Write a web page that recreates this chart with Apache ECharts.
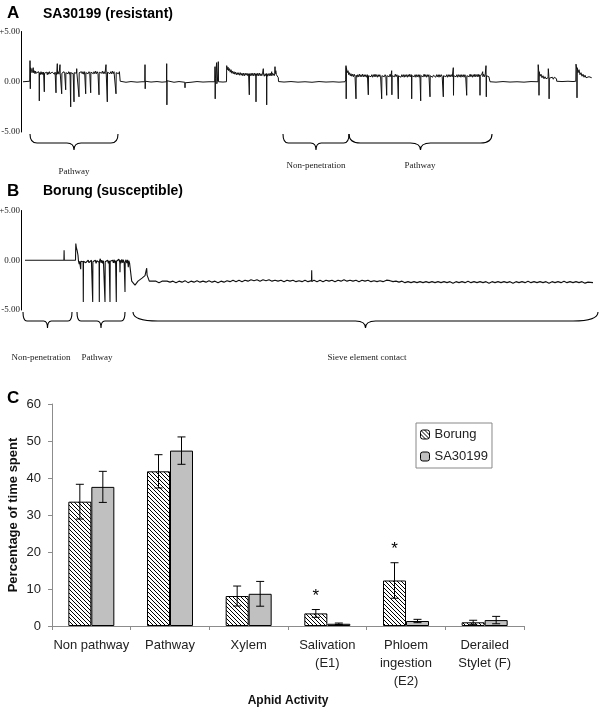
<!DOCTYPE html>
<html><head><meta charset="utf-8">
<script src="https://cdn.jsdelivr.net/npm/echarts@6/dist/echarts.min.js"></script>
<style>html,body{margin:0;padding:0;background:#fff}#c{width:600px;height:707px}</style>
</head><body><div id="c"></div>
<script>
// ---------- Panel A trace (time units, signal) ----------
const traceA = [
[2,0],[8.8,0.05],[9,2.1],[9.3,-0.7],[9.6,1.4],[10.5,1.2],[11,0.9],[11.5,1.1],[12.2,1.4],[12.6,0.9],[13.2,1.1],[14,0.8],[14.6,1.05],[15,0.85],[15.6,1.0],[16,0.75],[16.6,0.95],[17,0.8],[17.6,1.0],[18.1,0.8],[18.3,-1.9],[18.5,0.9],[19.2,0.7],[20,1.0],[20.6,0.75],[21.2,0.95],[22,0.7],[22.6,0.95],[23.1,0.9],[23.3,-1.0],[23.5,0.85],[24.2,1.0],[25,0.75],[25.7,0.95],[26.3,0.7],[27,0.95],[27.7,0.75],[28.4,1.0],[29,0.8],[29.8,0.95],[30.5,0.7],[31.2,0.95],[32,0.8],[32.7,1.0],[33.4,0.75],[34.1,0.95],[34.8,0.85],[35,-1.1],[35.2,0.9],[35.7,0.7],[36.1,0.85],[36.3,1.8],[36.5,0.8],[37.2,1.0],[38,0.75],[38.8,0.85],[39,1.7],[39.2,0.85],[39.8,0.7],[40.5,0.9],[40.7,-1.2],[40.9,0.85],[41.6,1.0],[42.3,0.75],[43,1.0],[43.7,0.8],[44.5,0.85],[44.7,-0.8],[44.9,0.9],[45.6,0.75],[46.3,1.0],[47,0.8],[47.7,1.0],[48.4,0.75],[49,0.95],[49.5,0.9],[49.7,-2.5],[49.9,0.9],[50.6,0.75],[51.5,1.0],[52.2,0.8],[52.8,0.9],[53,-2.0],[53.2,0.9],[53.9,0.75],[54.7,1.0],[55.5,0.85],[55.7,1.3],[55.9,0.85],[56.6,0.7],[57.2,0.95],[57.8,0.9],[58,-1.5],[58.2,0.9],[59,1.0],[59.7,0.75],[60.4,1.0],[61.2,0.8],[62,1.0],[62.8,0.75],[63.6,1.0],[64.5,0.9],[64.7,-1.2],[64.9,0.9],[65.7,0.8],[66.4,1.05],[67.2,0.8],[68,1.0],[68.8,0.8],[69.5,0.9],[69.7,-1.1],[69.9,0.95],[70.7,0.8],[71.5,1.05],[72.3,0.8],[73,1.0],[73.8,0.8],[74.6,1.05],[75.4,0.8],[76.2,1.0],[77,0.8],[77.8,0.9],[78,-1.3],[78.2,0.95],[79,0.8],[79.8,1.05],[80.6,0.85],[81.4,1.05],[82.2,0.8],[83,1.0],[84,0.8],[84.8,0.9],[85,1.7],[85.2,0.9],[86.1,0.95],[86.3,-2.0],[86.5,0.95],[87.3,0.8],[88.1,1.05],[89,0.8],[89.8,1.0],[90.6,0.8],[91.4,1.05],[92.2,0.8],[93,1.0],[94,0.85],[94.8,0.9],[95,-1.2],[95.2,0.9],[96,0.8],[96.8,1.0],[97.6,0.8],[98.4,1.0],[99,0.85],[99.2,0.05],
[105,-0.05],[110,0.02],[116,-0.04],[121,0],[123.8,0],[124,1.7],[124.2,-0.7],[124.4,0.05],[130,-0.03],[136,0.02],[141,-0.04],[145.5,0],[145.7,1.8],[145.9,-2.3],[146.1,0.1],[147,0],[153,-0.05],[158,0.02],[163.8,-0.05],[164,-0.6],[164.2,-0.1],[170,-0.05],[176,0.02],[182,-0.03],[188,0],[193.8,0],[194,1.5],[194.2,-1.7],[194.4,0.3],[195.4,0.2],[195.6,1.9],[195.8,-0.2],[196.4,0.05],[197.1,0],[197.3,2.0],[197.5,0.0],[202,-0.03],[205.5,0],[205.7,1.6],[206.4,1.2],[207,1.45],[207.7,1.1],[208.5,1.3],[209.2,0.95],[210,1.2],[210.8,0.85],[211.5,1.05],[212.3,0.8],[213,1.0],[213.8,0.75],[214.6,0.95],[215.4,0.7],[216.2,0.9],[217,0.7],[217.8,0.9],[218.6,0.65],[219.4,0.9],[220.2,0.65],[221,0.85],[221.8,0.6],[222.6,0.85],[223.4,0.6],[224.2,0.85],[225,0.65],[226,0.85],[226.8,0.6],[227.6,0.8],[228.1,0.75],[228.3,-1.3],[228.5,0.8],[229.3,0.6],[230.1,0.85],[231,0.6],[231.8,0.85],[232.6,0.6],[233.4,0.85],[234.2,0.6],[234.8,0.8],[235,-2.0],[235.2,0.8],[236,0.6],[236.8,0.85],[237.6,0.6],[238.4,0.85],[239.2,0.6],[240,0.8],[240.8,0.6],[241.6,0.85],[242.1,0.7],[242.3,1.3],[242.5,0.75],[243.3,0.55],[244.1,0.8],[244.9,0.6],[245.5,0.8],[245.7,-2.3],[245.9,0.8],[246.7,0.55],[247.5,0.8],[248.3,0.6],[249.1,0.85],[249.9,0.6],[250.5,0.7],[250.7,1.0],[250.9,0.6],[251.7,0.85],[252.5,0.9],[253.2,0.6],[253.8,0.8],[254,1.5],[254.2,0.8],[254.8,1.1],[255.4,0.7],[256,0.6],[256.7,0.8],[257.3,0.4],[257.5,0.02],
[263,-0.03],[270,0.02],[277,-0.04],[284,0],[291,-0.05],[298,0.02],[305,-0.03],[312,0],[318,-0.04],[324,0],[324.8,0.2],[325,1.6],[325.2,-1.7],[325.4,1.4],[326.2,0.9],[327,1.1],[327.8,0.7],[328.5,0.9],[329.3,0.6],[330,0.8],[330.8,0.55],[331.6,0.75],[332.4,0.5],[333.2,0.75],[334,0.55],[334.8,0.7],[335,-1.7],[335.2,0.65],[336,0.45],[336.8,0.7],[337.6,0.5],[338.4,0.75],[339.2,0.5],[340,0.7],[340.8,0.5],[341.6,0.75],[342.4,0.5],[343.2,0.7],[344,0.5],[344.8,0.7],[345.6,0.45],[346.4,0.7],[347.1,0.55],[347.3,-1.3],[347.5,0.6],[348.3,0.45],[349.1,0.75],[350,0.5],[350.8,0.7],[351.6,0.45],[352.4,0.7],[353.2,0.5],[354,0.75],[354.8,0.5],[355.6,0.7],[356.4,0.45],[357.2,0.7],[358,0.5],[358.8,0.7],[359.6,0.5],[360.5,0.55],[360.7,-1.7],[360.9,0.6],[361.7,0.45],[362.5,0.75],[363.3,0.5],[364.1,0.7],[364.9,0.5],[365.5,0.6],[365.7,-1.35],[365.9,0.6],[366.7,0.45],[367.5,0.7],[368.3,0.5],[369.1,0.75],[369.9,0.5],[370.5,0.6],[370.7,1.1],[370.9,-1.3],[371.1,0.6],[371.9,0.45],[372.7,0.7],[373.5,0.5],[374.3,0.75],[375.1,0.5],[375.9,0.7],[376.6,0.5],[377.1,0.6],[377.3,-1.7],[377.5,0.6],[378.3,0.45],[379.1,0.7],[380,0.45],[380.8,0.7],[381.6,0.5],[382.4,0.7],[383.2,0.45],[384,0.7],[384.8,0.5],[385.6,0.7],[386.4,0.45],[387.2,0.7],[388,0.5],[388.8,0.75],[389.6,0.5],[390.5,0.7],[390.7,-1.7],[390.9,0.6],[391.7,0.45],[392.5,0.7],[393.3,0.5],[394.1,0.7],[394.9,0.45],[395.7,0.7],[396.5,0.5],[397.3,0.7],[398.1,0.45],[398.9,0.7],[399.5,0.65],[399.7,-1.9],[399.9,0.6],[400.7,0.45],[401.5,0.7],[402.3,0.5],[403.1,0.75],[403.9,0.5],[404.7,0.7],[405.5,0.45],[406.3,0.7],[407.1,0.5],[407.9,0.7],[408.8,0.55],[409,-1.5],[409.2,0.6],[410,0.45],[410.8,0.7],[411.6,0.45],[412.4,0.65],[413.2,0.5],[414,0.7],[414.8,0.45],[415.6,0.7],[416.4,0.5],[417.2,0.7],[418,0.45],[418.8,0.7],[419.6,0.5],[420.4,0.7],[421.2,0.5],[422.1,0.55],[422.3,-1.5],[422.5,0.6],[423.3,0.45],[424.1,0.7],[424.9,0.5],[425.7,0.7],[426.5,0.45],[427.3,0.7],[428.1,0.5],[428.9,0.7],[429.7,0.5],[430.5,0.7],[431.3,0.5],[432.1,0.55],[432.3,1.4],[432.5,-1.35],[432.7,0.6],[433.5,0.45],[434.3,0.7],[435.1,0.5],[435.9,0.7],[436.7,0.45],[437.5,0.7],[438.3,0.5],[439.1,0.7],[439.9,0.45],[440.7,0.7],[441.5,0.5],[442.3,0.7],[443.1,0.45],[443.9,0.7],[444.7,0.5],[445.5,0.5],[445.7,-1.35],[445.9,0.6],[446.7,0.45],[447.5,0.7],[448.3,0.5],[449.1,0.75],[449.9,0.5],[450.7,0.7],[451.5,0.45],[452.3,0.7],[453.1,0.5],[453.9,0.75],[454.7,0.5],[455.5,0.7],[456.3,0.5],[457.1,0.75],[457.9,0.5],[458.8,0.7],[459,-1.35],[459.2,0.55],[460,0.45],[460.8,0.75],[461.5,0.6],[461.7,1.0],[461.9,0.5],[462.7,0.75],[463.5,0.5],[464.2,0.7],[464.8,0.6],[465,1.6],[465.3,-1.5],[465.5,0.6],[466.3,0.45],[467.1,0.7],[467.9,0.5],[468.8,0.55],[469,0],
[475,-0.04],[482,0.02],[489,-0.03],[496,0],[503,-0.04],[510,0.02],[517,0],[517.2,1.7],[517.8,0.9],[518,-1.35],[518.2,1.0],[519,0.55],[520,0.75],[521,0.4],[522,0.6],[523,0.3],[524,0.5],[525,0.3],[526,0.45],[527.1,0.4],[527.3,1.3],[527.9,0.5],[528.1,-1.7],[528.3,0.35],[529.3,0.5],[530.3,0.25],[531.3,0.45],[532.3,0.25],[533.3,0.45],[534.5,0.3],[535.5,0.3],[535.7,0.05],[541,0.02],[547,0.05],[552,0.02],[554.8,0.05],[555,1.75],[555.8,1.2],[556,-1.6],[556.2,1.4],[557,0.9],[558,1.2],[559,0.7],[560,0.9],[561,0.55],[562,0.75],[563,0.45],[564,0.65],[565,0.4],[566,0.55],[567,0.35],[568,0.5],[569,0.35],[570.7,0.4]
];
// ---------- Panel B trace ----------
const traceB = [
[4,0],[20,0],[42.9,0],[43.1,1.0],[43.3,0],[50.6,0],[50.8,0.2],[51,0],[54.5,0],[54.8,1.67],[55.3,1.3],[55.6,1.5],[56.1,1.0],[56.5,1.2],[57,0.5],[57.5,-0.1],[58.2,-0.4],[58.6,-0.1],[59.5,-0.2],[59.7,-0.9],[59.9,-0.1],[60.6,-0.25],[61.3,0],[62.1,-0.15],[62.3,-4.2],[62.5,-0.1],[63.2,-0.3],[64,0],[64.8,-0.25],[65.6,-0.05],[66.4,-0.3],[67.2,0],[68,-0.25],[68.8,-0.05],[69.6,-0.3],[70.4,0],[71.5,-0.2],[71.7,-4.2],[71.9,-0.15],[72.7,0.05],[73.5,-0.25],[74.3,0],[75.1,-0.3],[75.9,-0.05],[76.7,-0.25],[77.5,0.05],[78.1,-0.2],[78.3,-4.2],[78.5,-0.1],[79.3,0.15],[80,-0.25],[80.8,0],[81.6,-0.3],[82.4,-0.05],[83.2,-0.25],[83.8,-0.1],[84,-4.2],[84.2,-0.15],[85,0.05],[85.8,-0.25],[86.6,0],[87.4,-0.3],[88.2,-0.05],[88.8,-0.2],[89,-4.2],[89.2,-0.1],[90,0.05],[90.8,-0.3],[91.6,0],[92.4,-0.25],[93.2,0.05],[94,-0.3],[94.6,-0.05],[95.1,-0.2],[95.3,-4.2],[95.5,-0.1],[96.3,0.05],[97.1,-0.3],[97.9,0.1],[98.8,-0.2],[99,-1.2],[99.2,0.0],[100,-0.3],[100.8,0.1],[101.6,-0.25],[102.4,0.05],[103.2,-0.3],[103.8,-0.15],[104,-3.2],[104.2,-0.2],[105,0.05],[105.8,-0.3],[106.6,0.05],[107.3,-0.7],[107.8,-0.05],[108.6,-0.3],[109.5,-0.1],[110.5,-0.2],[110.7,-2.1],[112,-2.3],[114,-2.5],[115.7,-2.3],[117,-2.1],[119,-1.95],[121,-1.8],[122.3,-1.7],[124,-1.55],[125.3,-1.45],[125.7,-0.8],[126.1,-1.5],[127,-1.7],[128.3,-2.1],[129.7,-2.2],[131,-2.1],
[132,-2.2],[135,-2.1],[138,-2.25],[141,-2.1],[143,-2.25],[146,-2.1],[149,-2.2],[152,-2.1],[155,-2.25],[158,-2.1],[161,-2.2],[164,-2.05],[167,-2.25],[170,-2.1],[173,-2.2],[176,-2.05],[179,-2.2],[182,-2.1],[185,-2.2],[188,-2.05],[191,-2.2],[194,-2.1],[197,-2.25],[200,-2.1],[203,-2.2],[206,-2.05],[209,-2.15],[212,-2.0],[215,-2.15],[218,-2.0],[221,-2.15],[224,-2.0],[227,-2.1],[230,-1.95],[233,-2.05],[236,-1.95],[239,-2.1],[242,-1.95],[245,-2.05],[248,-1.95],[251,-2.1],[254,-2.0],[257,-2.1],[260,-2.0],[263,-2.15],[266,-2.0],[269,-2.1],[272,-2.0],[275,-2.15],[278,-2.05],[281,-2.15],[284,-2.0],[287,-2.15],[290.5,-2.05],[290.7,-1.0],[290.9,-2.15],[293,-2.0],[296,-2.15],[299,-2.0],[302,-2.15],[305,-2.0],[308,-2.1],[311,-2.0],[314,-2.15],[317,-2.0],[320,-2.1],[323,-1.95],[326,-2.1],[329,-2.0],[332,-2.1],[335,-2.0],[338,-2.15],[341,-2.0],[344,-2.1],[347,-2.0],[350,-2.15],[353,-2.05],[356,-2.15],[359,-2.05],[362,-2.15],[365.5,-2.0],[365.7,-1.8],[366.2,-2.15],[369,-2.05],[372,-2.15],[375,-2.1],[378,-2.2],[381,-2.1],[384,-2.25],[387,-2.15],[390,-2.25],[393,-2.15],[396,-2.25],[399,-2.15],[402,-2.25],[405,-2.15],[408,-2.25],[411,-2.15],[414,-2.25],[417,-2.15],[420,-2.25],[423,-2.15],[426,-2.25],[429,-2.15],[432,-2.3],[435,-2.15],[438,-2.25],[441,-2.15],[444,-2.25],[447,-2.1],[450,-2.25],[453,-2.15],[456,-2.25],[459,-2.15],[462,-2.25],[465,-2.15],[468,-2.3],[471,-2.15],[474,-2.25],[477,-2.15],[480,-2.25],[483,-2.15],[486,-2.25],[489,-2.15],[492,-2.3],[495,-2.15],[498,-2.25],[501,-2.15],[504,-2.25],[507,-2.1],[510,-2.25],[513,-2.15],[516,-2.25],[519,-2.15],[522,-2.25],[525,-2.15],[528,-2.3],[531,-2.15],[534,-2.25],[537,-2.15],[540,-2.25],[543,-2.1],[546,-2.25],[549,-2.15],[552,-2.25],[555,-2.15],[558,-2.25],[561,-2.15],[564,-2.3],[567,-2.2],[572,-2.25]
];
// braces: [start, end, labelPos, label]
const bracesA = [[9, 97, 53, 'Pathway'], [262, 328, 295, 'Non-penetration'], [328, 471, 399, 'Pathway']];
const bracesB = [[2, 51, 20, 'Non-penetration'], [56, 104, 76, 'Pathway'], [112, 577, 346, 'Sieve element contact']];

// ---------- Panel C ----------
const categories = ['Non pathway', 'Pathway', 'Xylem', 'Salivation\n(E1)', 'Phloem\ningestion\n(E2)', 'Derailed\nStylet (F)'];
const borung = [33.6, 41.8, 8.1, 3.4, 12.3, 1.0];
const borungErr = [4.7, 4.5, 2.7, 1.05, 4.8, 0.55];
const sa30199 = [37.6, 47.4, 8.7, 0.6, 1.35, 1.6];
const sa30199Err = [4.2, 3.7, 3.35, 0.2, 0.45, 1.0];
const significant = [false, false, false, true, true, false];

const SANS = "'Liberation Sans', Arial, sans-serif";
const SERIF = "'Liberation Serif', 'Times New Roman', serif";

function hatch() {
  const c = document.createElement('canvas'); c.width = 4; c.height = 4;
  const g = c.getContext('2d'); g.fillStyle = '#fff'; g.fillRect(0, 0, 4, 4);
  g.strokeStyle = '#000'; g.lineWidth = 1;
  g.beginPath(); g.moveTo(-1, -1); g.lineTo(5, 5); g.moveTo(-1, 3); g.lineTo(1, 5); g.moveTo(3, -1); g.lineTo(5, 1); g.stroke();
  return c;
}
const hatchCanvas = hatch();

const chart = echarts.init(document.getElementById('c'), null, {renderer: 'canvas'});

function braceSeries(idx, data, dyLabel) {
  return {
    type: 'custom', xAxisIndex: idx, yAxisIndex: idx, silent: true, clip: false,
    data: data,
    renderItem: function (params, api) {
      const s = api.coord([api.value(0), -5]);
      const e = api.coord([api.value(1), -5]);
      const m = api.coord([api.value(2), -5]);
      const x0 = s[0], x1 = e[0], xm = (x0 + x1) / 2;
      const w = x1 - x0;
      const yT = s[1] + 2, yM = s[1] + 11, yP = s[1] + 18;
      const r = Math.min(25, w * 0.08), rm = Math.min(10, w * 0.08);
      const d = 'M' + x0 + ' ' + yT + ' Q' + x0 + ' ' + yM + ' ' + (x0 + r) + ' ' + yM +
        ' L' + (xm - rm) + ' ' + yM + ' Q' + xm + ' ' + yM + ' ' + xm + ' ' + yP +
        ' Q' + xm + ' ' + yM + ' ' + (xm + rm) + ' ' + yM +
        ' L' + (x1 - r) + ' ' + yM + ' Q' + x1 + ' ' + yM + ' ' + x1 + ' ' + yT;
      return {
        type: 'group', children: [
          {type: 'path', shape: {pathData: d}, style: {stroke: '#000', fill: null, lineWidth: 1.1}},
          {type: 'text', style: {text: data[params.dataIndex][3], x: m[0], y: s[1] + dyLabel[params.dataIndex], align: 'center', verticalAlign: 'middle', font: '9px ' + SERIF, fill: '#222'}}
        ]
      };
    }
  };
}

function errSeries(vals, errs, off, withStar) {
  return {
    type: 'custom', xAxisIndex: 2, yAxisIndex: 2, z: 5, silent: true,
    data: vals.map((v, i) => [i, v, errs[i], significant[i] ? 1 : 0]),
    renderItem: function (params, api) {
      const i = api.value(0), v = api.value(1), e = api.value(2);
      const top = api.coord([i, v + e]), bot = api.coord([i, v - e]);
      const x = top[0] + off;
      const ch = [
        {type: 'line', shape: {x1: x, y1: top[1], x2: x, y2: bot[1]}, style: {stroke: '#000', lineWidth: 1}},
        {type: 'line', shape: {x1: x - 4, y1: top[1], x2: x + 4, y2: top[1]}, style: {stroke: '#000', lineWidth: 1}},
        {type: 'line', shape: {x1: x - 4, y1: bot[1], x2: x + 4, y2: bot[1]}, style: {stroke: '#000', lineWidth: 1}}
      ];
      if (withStar && api.value(3)) {
        ch.push({type: 'text', style: {text: '*', x: x, y: top[1] - 22, align: 'center', verticalAlign: 'top', font: '17px ' + SANS, fill: '#000'}});
      }
      return {type: 'group', children: ch};
    }
  };
}

const traceYAxis = (idx) => ({
  gridIndex: idx, type: 'value', min: -5, max: 5, interval: 5,
  axisLine: {show: true, onZero: false, lineStyle: {color: '#000', width: 1}},
  axisTick: {show: false}, splitLine: {show: false},
  axisLabel: {margin: 1, fontFamily: SERIF, fontSize: 9, color: '#222',
    formatter: v => (v > 0 ? '+' : '') + v.toFixed(2)}
});
const traceXAxis = (idx) => ({gridIndex: idx, type: 'value', min: 0, max: 575, show: false});

const option = {
  animation: false,
  backgroundColor: '#fff',
  grid: [
    {left: 21, top: 31.5, width: 575, height: 100.5, outerBoundsMode: 'none', containLabel: false},
    {left: 21, top: 210.5, width: 575, height: 99.5, outerBoundsMode: 'none', containLabel: false},
    {left: 52, top: 404, width: 472, height: 222, outerBoundsMode: 'none', containLabel: false}
  ],
  xAxis: [traceXAxis(0), traceXAxis(1), {
    gridIndex: 2, type: 'category', data: categories,
    axisLine: {lineStyle: {color: '#8c8c8c', width: 1}},
    axisTick: {show: true, interval: 0, length: 4, lineStyle: {color: '#8c8c8c'}},
    axisLabel: {interval: 0, margin: 10, fontFamily: SANS, fontSize: 13, lineHeight: 18, color: '#222'},
    name: 'Aphid Activity', nameLocation: 'middle', nameGap: 69,
    nameTextStyle: {fontFamily: SANS, fontSize: 12, fontWeight: 'bold', color: '#111'}
  }],
  yAxis: [traceYAxis(0), traceYAxis(1), {
    gridIndex: 2, type: 'value', min: 0, max: 60, interval: 10,
    axisLine: {show: true, lineStyle: {color: '#8c8c8c', width: 1}},
    axisTick: {show: true, length: 4, lineStyle: {color: '#8c8c8c'}},
    splitLine: {show: false},
    axisLabel: {margin: 11, fontFamily: SANS, fontSize: 13, color: '#222'},
    name: 'Percentage of time spent', nameLocation: 'middle', nameGap: 32, nameMoveOverlap: false,
    nameTextStyle: {fontFamily: SANS, fontSize: 13, fontWeight: 'bold', color: '#111'}
  }],
  legend: {
    data: ['Borung', 'SA30199'], orient: 'vertical', left: 416, top: 423,
    padding: [4, 4, 4, 4], itemGap: 7, itemWidth: 9, itemHeight: 9,
    borderColor: '#888', borderWidth: 1, backgroundColor: '#fff',
    textStyle: {fontFamily: SANS, fontSize: 13, color: '#222', lineHeight: 15},
    itemStyle: {borderColor: '#000', borderWidth: 1}
  },
  graphic: [
    {type: 'text', left: 7, top: 5, style: {text: 'A', font: 'bold 17px ' + SANS, fill: '#000'}},
    {type: 'text', left: 43, top: 7, style: {text: 'SA30199 (resistant)', font: 'bold 14px ' + SANS, fill: '#000'}},
    {type: 'text', left: 7, top: 183, style: {text: 'B', font: 'bold 17px ' + SANS, fill: '#000'}},
    {type: 'text', left: 43, top: 184, style: {text: 'Borung (susceptible)', font: 'bold 14px ' + SANS, fill: '#000'}},
    {type: 'text', left: 7, top: 390, style: {text: 'C', font: 'bold 17px ' + SANS, fill: '#000'}}
  ],
  series: [
    {type: 'line', xAxisIndex: 0, yAxisIndex: 0, data: traceA, showSymbol: false, silent: true, smooth: false,
      lineStyle: {color: '#111', width: 1}},
    {type: 'line', xAxisIndex: 1, yAxisIndex: 1, data: traceB, showSymbol: false, silent: true, smooth: false,
      lineStyle: {color: '#111', width: 1.1}},
    braceSeries(0, bracesA, [40, 34, 34]),
    braceSeries(1, bracesB, [48, 48, 48]),
    {name: 'Borung', type: 'bar', xAxisIndex: 2, yAxisIndex: 2, data: borung, barWidth: 23, barGap: '0%',
      itemStyle: {color: {image: hatchCanvas, repeat: 'repeat'}, borderColor: '#000', borderWidth: 1}},
    {name: 'SA30199', type: 'bar', xAxisIndex: 2, yAxisIndex: 2, data: sa30199, barWidth: 23, barGap: '0%',
      itemStyle: {color: '#c0c0c0', borderColor: '#000', borderWidth: 1}},
    errSeries(borung, borungErr, -11.5, true),
    errSeries(sa30199, sa30199Err, 11.5, false)
  ]
};
chart.setOption(option);
</script>
</body></html>
